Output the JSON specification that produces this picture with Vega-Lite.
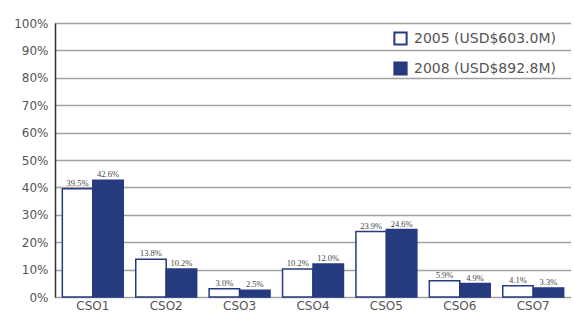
{
  "$schema": "https://vega.github.io/schema/vega-lite/v6.json",
  "autosize": {"type": "none"},
  "width": 516,
  "height": 274,
  "padding": {"left": 55, "top": 23, "right": 3, "bottom": 19},
  "background": "white",
  "data": {"values": [
    {"cso": "CSO1", "year": "2005 (USD$603.0M)", "share": 39.5},
    {"cso": "CSO1", "year": "2008 (USD$892.8M)", "share": 42.6},
    {"cso": "CSO2", "year": "2005 (USD$603.0M)", "share": 13.8},
    {"cso": "CSO2", "year": "2008 (USD$892.8M)", "share": 10.2},
    {"cso": "CSO3", "year": "2005 (USD$603.0M)", "share": 3.0},
    {"cso": "CSO3", "year": "2008 (USD$892.8M)", "share": 2.5},
    {"cso": "CSO4", "year": "2005 (USD$603.0M)", "share": 10.2},
    {"cso": "CSO4", "year": "2008 (USD$892.8M)", "share": 12.0},
    {"cso": "CSO5", "year": "2005 (USD$603.0M)", "share": 23.9},
    {"cso": "CSO5", "year": "2008 (USD$892.8M)", "share": 24.6},
    {"cso": "CSO6", "year": "2005 (USD$603.0M)", "share": 5.9},
    {"cso": "CSO6", "year": "2008 (USD$892.8M)", "share": 4.9},
    {"cso": "CSO7", "year": "2005 (USD$603.0M)", "share": 4.1},
    {"cso": "CSO7", "year": "2008 (USD$892.8M)", "share": 3.3}
  ]},
  "encoding": {
    "x": {"field": "cso", "type": "nominal", "title": null,
      "scale": {"paddingInner": 0.17, "paddingOuter": 0.1},
      "axis": {"labelAngle": 0, "ticks": false, "domain": false, "labelFont": "DejaVu Sans", "labelFontSize": 12, "labelColor": "#555555", "labelPadding": 3}},
    "xOffset": {"field": "year", "type": "nominal", "scale": {"paddingInner": 0}},
    "y": {"field": "share", "type": "quantitative", "title": null,
      "scale": {"domain": [0, 100]},
      "axis": {"values": [0,10,20,30,40,50,60,70,80,90,100], "labelExpr": "datum.value + '%'", "ticks": false, "domain": true, "domainColor": "#333333", "domainWidth": 1.5, "grid": true, "gridColor": "#444444", "gridDash": [1, 1], "gridWidth": 1.5, "labelFont": "DejaVu Sans", "labelFontSize": 12, "labelColor": "#555555", "labelPadding": 7}}
  },
  "layer": [
    {
      "mark": {"type": "bar", "stroke": "#263a80", "strokeWidth": 1.5},
      "encoding": {
        "fill": {"field": "year", "type": "nominal", "title": null,
          "scale": {"range": ["#ffffff", "#263a80"]},
          "legend": {"orient": "none", "legendX": 338, "legendY": 8, "symbolType": "square", "symbolSize": 150, "symbolStrokeColor": "#263a80", "symbolStrokeWidth": 2, "labelFont": "DejaVu Sans", "labelFontSize": 14, "labelColor": "#555555", "rowPadding": 9, "labelOffset": 6}}
      }
    },
    {
      "mark": {"type": "text", "baseline": "bottom", "dy": -1, "font": "Liberation Serif", "fontSize": 8.5, "color": "#444444", "fill": "#444444", "text": {"expr": "format(datum.share, '.1f') + '%'"}},
      "encoding": {
        "detail": {"field": "year"}
      }
    }
  ],
  "config": {"view": {"stroke": null}}
}
